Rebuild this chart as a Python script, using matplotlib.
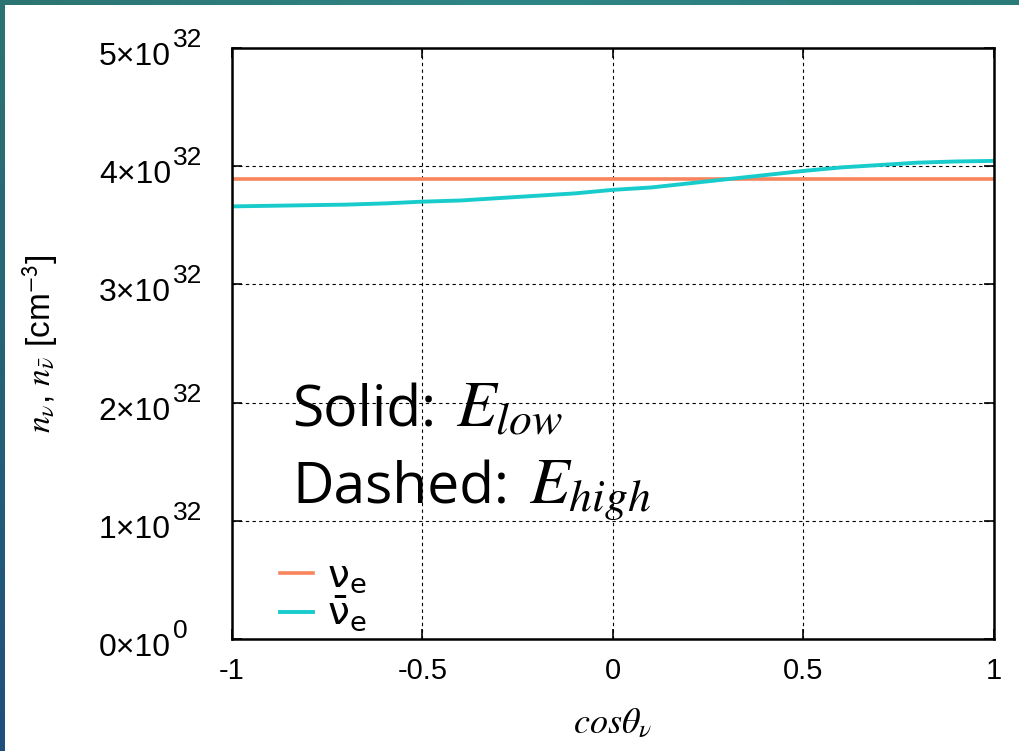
import numpy as np
import matplotlib
matplotlib.use("Agg")
import matplotlib.pyplot as plt
import matplotlib.transforms as mtransforms
from matplotlib.font_manager import FontProperties

# Angular distribution of electron (anti)neutrino number density
cos_theta = [-1.0, -0.9, -0.8, -0.7, -0.6, -0.5, -0.4, -0.3, -0.2, -0.1, 0.0,
             0.1, 0.2, 0.3, 0.4, 0.5, 0.6, 0.7, 0.8, 0.9, 1.0]
n_nu_e = [3.89] * len(cos_theta)  # units of 1e32 cm^-3
n_nubar_e = [3.66, 3.665, 3.67, 3.675, 3.685, 3.70, 3.71, 3.73, 3.75, 3.77, 3.80,
             3.82, 3.855, 3.89, 3.925, 3.96, 3.99, 4.01, 4.03, 4.04, 4.045]

x_ticks = [-1, -0.5, 0, 0.5, 1]
x_tick_labels = ["-1", "-0.5", "0", "0.5", "1"]
y_ticks = [0, 1, 2, 3, 4, 5]
y_tick_mantissas = ["0×10", "1×10", "2×10", "3×10", "4×10", "5×10"]
y_tick_exponents = ["0", "32", "32", "32", "32", "32"]
series_labels = [r"$\mathrm{\nu}_\mathrm{e}$", r"$\bar{\mathrm{\nu}}_\mathrm{e}$"]

W, H = 1020, 751
fig = plt.figure(figsize=(W / 100, H / 100), dpi=100, facecolor="white")

# slide border strips
top = fig.add_axes([0, 1 - 5 / H, 1, 5 / H])
top.imshow(np.linspace(0, 1, 256)[None, :], aspect="auto",
           cmap=matplotlib.colors.LinearSegmentedColormap.from_list(
               "t", ["#2c7472", "#2f8585", "#2a7a78"]))
top.axis("off")
left = fig.add_axes([0, 0, 5 / W, 1])
left.imshow(np.linspace(0, 1, 256)[:, None], aspect="auto",
            cmap=matplotlib.colors.LinearSegmentedColormap.from_list(
                "l", ["#2c7472", "#1f4f7c"]))
left.axis("off")

ax = fig.add_axes([232 / W, 1 - 639 / H, 762 / W, 591 / H])
ax.plot(cos_theta, n_nu_e, color="#f7845c", lw=2.6, label=series_labels[0])
ax.plot(cos_theta, n_nubar_e, color="#19cccc", lw=2.8, label=series_labels[1])

ax.set_xlim(-1, 1)
ax.set_ylim(0, 5)
ax.set_xticks(x_ticks)
ax.set_yticks(y_ticks)
ax.set_xticklabels(x_tick_labels, family="Liberation Sans", fontsize=21)
ax.set_yticklabels([])
ax.tick_params(direction="in", length=7, width=1.2, top=True, right=True)
ax.tick_params(axis="x", pad=13)
ax.grid(True, color="black", lw=0.8, linestyle=(0, (3, 3)))
for s in ax.spines.values():
    s.set_linewidth(1.8)

# y tick labels in "a×10^b" form with a large exponent
ytr = ax.get_yaxis_transform()
for yv, mant, expo in zip(y_ticks, y_tick_mantissas, y_tick_exponents):
    base_tr = ytr + mtransforms.ScaledTranslation(-61 / 100, -17 / 100, fig.dpi_scale_trans)
    ax.text(0, yv, mant, transform=base_tr, ha="right", va="baseline",
            family="Liberation Sans", fontsize=23, clip_on=False)
    exp_tr = ytr + mtransforms.ScaledTranslation(-59 / 100, 1 / 100, fig.dpi_scale_trans)
    ax.text(0, yv, expo, transform=exp_tr, ha="left", va="baseline",
            family="Liberation Sans", fontsize=19, clip_on=False)

ax.set_xlabel(r"$cos\theta_{\nu}$", fontsize=26, math_fontfamily="stix", labelpad=15)
ax.set_ylabel(r"$n_{\nu}$, $n_{\bar{\nu}}$ [cm$^{\mathsf{-3}}$]", fontsize=24,
              family="Liberation Sans", math_fontfamily="stix")
ax.yaxis.set_label_coords(-0.226, 0.5)

leg = ax.legend(loc="lower left", frameon=False, handlelength=0.85, handletextpad=0.35,
                labelspacing=0.0, borderaxespad=0.0, bbox_to_anchor=(0.043, -0.017),
                prop=FontProperties(family="Liberation Sans", size=28,
                                    math_fontfamily="dejavusans"))

# annotation: word part in a sans font, symbol part in a math font
notes = [("Solid:", r"$E_{low}$", 0.359), ("Dashed:", r"$E_{high}$", 0.230)]
fig.canvas.draw()
renderer = fig.canvas.get_renderer()
for word, sym, yb in notes:
    t = ax.text(0.079, yb, word, family="Open Sans", fontsize=41, va="baseline",
                transform=ax.transAxes)
    bb = t.get_window_extent(renderer)
    xa = ax.transAxes.inverted().transform((bb.x1 + 20, 0))[0]
    ax.text(xa, yb, sym, fontsize=47, math_fontfamily="stix", va="baseline",
            transform=ax.transAxes)

fig.savefig("out.png", dpi=100, facecolor="white")
